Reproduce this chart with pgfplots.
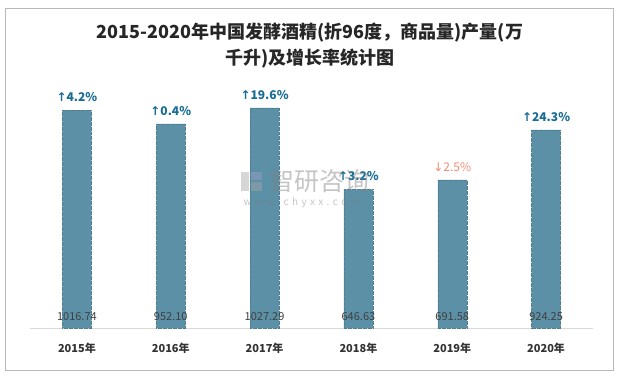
\documentclass[border=0pt]{standalone}
\usepackage{pgfplots}
\pgfplotsset{compat=1.18}
\usepackage{fontspec}
\setmainfont{Noto Sans CJK SC}
\newfontfamily\sym{DejaVu Sans}
\definecolor{barc}{RGB}{91,144,166}
\definecolor{upc}{RGB}{24,108,150}
\definecolor{dnc}{RGB}{240,140,120}
\definecolor{valc}{RGB}{64,64,64}
\newcommand\upl[1]{\textcolor{upc}{\bfseries{\sym ↑}#1}}
\newcommand\dnl[1]{\textcolor{dnc}{{\sym ↓}#1}}
\begin{document}
\begin{tikzpicture}
\fill[white] (0pt,0pt) rectangle (620pt,378pt);
\draw[gray!55, line width=0.8pt] (5pt,8pt) rectangle (613pt,370pt);
\node[align=center, font=\bfseries\fontsize{18}{26}\selectfont, text=black!85] at (310pt,332pt)
  {2015-2020年中国发酵酒精(折96度，商品量)产量(万\\千升)及增长率统计图};
\begin{axis}[at={(30pt,50pt)}, anchor=south west, scale only axis,
  width=563pt, height=248pt,
  xmin=-0.5, xmax=5.5, ymin=0, ymax=1157,
  axis y line=none, axis x line*=bottom,
  x axis line style={draw=gray!30, line width=0.8pt, -},
  xtick={0,...,5}, major tick length=0pt,
  xticklabels={2015年,2016年,2017年,2018年,2019年,2020年},
  xticklabel style={font=\bfseries\fontsize{11}{13}\selectfont, text=black!80, yshift=-12pt},
  clip=false]
\addplot[ybar, bar width=29pt, fill=barc, draw=barc!88!black, densely dotted, line width=0.25pt,
  nodes near coords, point meta=explicit symbolic,
  every node near coord/.append style={font=\fontsize{12}{14}\selectfont, yshift=5pt, solid}]
  coordinates {(0,1016.74) [\upl{4.2\%}]
               (1,952.10) [\upl{0.4\%}]
               (2,1027.29) [\upl{19.6\%}]
               (3,646.63) [\upl{3.2\%}]
               (4,691.58) [\dnl{2.5\%}]
               (5,924.25) [\upl{24.3\%}]};
\addplot[draw=none, nodes near coords, point meta=explicit symbolic,
  every node near coord/.append style={font=\fontsize{11}{13}\selectfont, text=valc, anchor=center, yshift=11pt}]
  coordinates {(0,0) [1016.74] (1,0) [952.10] (2,0) [1027.29]
               (3,0) [646.63] (4,0) [691.58] (5,0) [924.25]};
\end{axis}
% watermark
\begin{scope}[opacity=0.45]
\fill[gray!70] (241pt,187pt) rectangle (249pt,206pt);
\fill[blue!25!gray!60] (251pt,198pt) rectangle (262pt,206pt);
\fill[gray!70] (251pt,187pt) rectangle (262pt,196pt);
\node[text=gray, font=\fontsize{25}{25}\selectfont, anchor=west] at (266pt,197pt) {智研咨询};
\node[text=gray, font=\fontsize{10}{10}\selectfont, anchor=west] at (240pt,175pt) {w\,\,w\,\,w\,\,.\,\,c\,\,h\,\,y\,\,x\,\,x\,\,.\,\,c\,\,o\,\,m};
\end{scope}
\end{tikzpicture}
\end{document}
